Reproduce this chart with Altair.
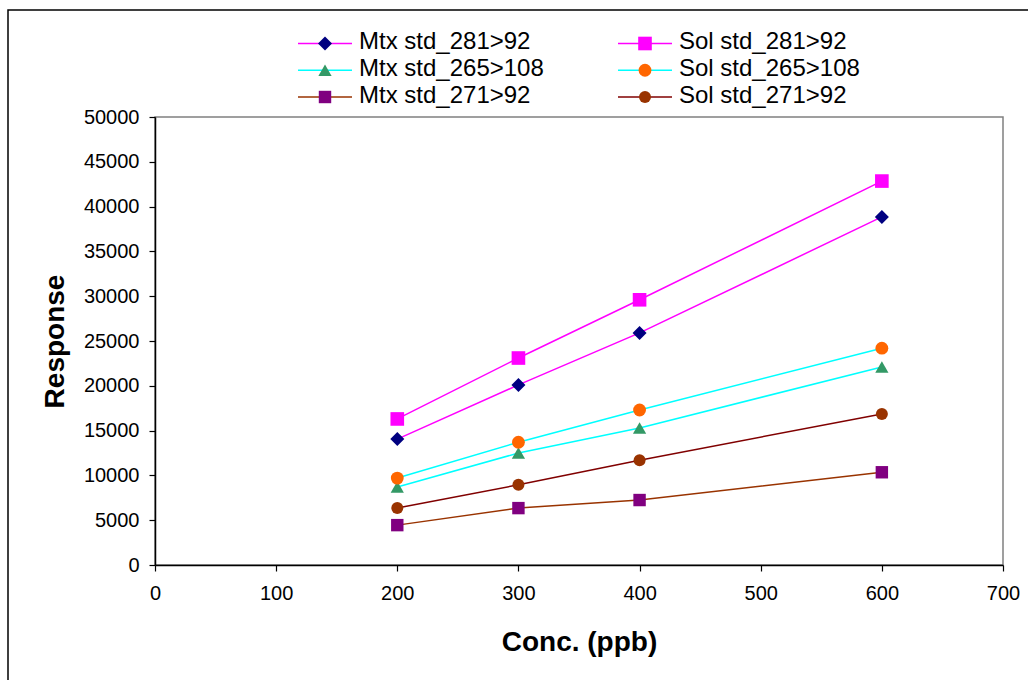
import altair as alt
import pandas as pd

# ---- data ----
conc = [200, 300, 400, 600]
series_names = ["Mtx std_281>92", "Sol std_281>92",
                "Mtx std_265>108", "Sol std_265>108",
                "Mtx std_271>92", "Sol std_271>92"]
mtx_281 = [14050, 20100, 25900, 38850]
sol_281 = [16300, 23100, 29600, 42850]
mtx_265 = [8700, 12500, 15300, 22100]
sol_265 = [9700, 13700, 17300, 24200]
mtx_271 = [4450, 6350, 7250, 10350]
sol_271 = [6350, 8950, 11700, 16850]
values = [mtx_281, sol_281, mtx_265, sol_265, mtx_271, sol_271]

# legend layout: column and row of each entry
legend_col = [0, 1, 0, 1, 0, 1]
legend_row = [0, 0, 1, 1, 2, 2]

# ---- styles ----
line_colors = ["#FF00FF", "#FF00FF", "#00FFFF", "#00FFFF", "#993300", "#800000"]
marker_colors = ["#000080", "#FF00FF", "#339966", "#FF6600", "#800080", "#993300"]
marker_shapes = ["diamond", "square", "triangle-up", "circle", "square", "circle"]
marker_sizes = [196, 144, 196, 150, 144, 150]
FONT = "Liberation Sans"

rows = []
for name, vals in zip(series_names, values):
    for c, v in zip(conc, vals):
        rows.append({"series": name, "conc": c, "response": v})
df = pd.DataFrame(rows)

leg = pd.DataFrame({"series": series_names, "col": legend_col, "row": legend_row})

stroke_scale = alt.Scale(domain=series_names, range=line_colors)
fill_scale = alt.Scale(domain=series_names, range=marker_colors)
shape_scale = alt.Scale(domain=series_names, range=marker_shapes)
size_scale = alt.Scale(domain=series_names, range=marker_sizes)

x_enc = alt.X("conc:Q", scale=alt.Scale(domain=[0, 700], nice=False),
              axis=alt.Axis(values=list(range(0, 701, 100)), title="Conc. (ppb)",
                            grid=False, tickSize=6, labelPadding=12,
                            labelFlush=False, labelOverlap=False,
                            titleY=85, titleBaseline="alphabetic"))
y_enc = alt.Y("response:Q", scale=alt.Scale(domain=[0, 50000], nice=False),
              axis=alt.Axis(values=list(range(0, 50001, 5000)), format="d",
                            title="Response", grid=False, tickSize=6,
                            labelPadding=10, labelOverlap=False,
                            titleX=-92, titleY=224, titleAngle=270,
                            titleBaseline="alphabetic"))

lines = alt.Chart(df).mark_line(strokeWidth=1.5).encode(
    x=x_enc, y=y_enc,
    stroke=alt.Stroke("series:N", scale=stroke_scale, legend=None),
    detail="series:N",
)
points = alt.Chart(df).mark_point(filled=True, opacity=1, strokeWidth=0).encode(
    x=x_enc, y=y_enc,
    fill=alt.Fill("series:N", scale=fill_scale, legend=None),
    shape=alt.Shape("series:N", scale=shape_scale, legend=None),
    size=alt.Size("series:N", scale=size_scale, legend=None),
)
main = alt.layer(lines, points)

# ---- legend (drawn above the plot area) ----
lx = alt.X("col:O", scale=alt.Scale(type="point", domain=[0, 1], range=[170, 490], padding=0), axis=None)
ly = alt.Y("row:O", scale=alt.Scale(type="point", domain=[0, 1, 2], range=[-73.5, -20], padding=0), axis=None)

leg_lines = alt.Chart(leg).mark_point(shape="M-1,0L1,0", size=2916, filled=False,
                                      strokeWidth=1.5, opacity=1).encode(
    x=lx, y=ly, stroke=alt.Stroke("series:N", scale=stroke_scale, legend=None))
leg_points = alt.Chart(leg).mark_point(filled=True, opacity=1, strokeWidth=0).encode(
    x=lx, y=ly,
    fill=alt.Fill("series:N", scale=fill_scale, legend=None),
    shape=alt.Shape("series:N", scale=shape_scale, legend=None),
    size=alt.Size("series:N", scale=size_scale, legend=None),
)
leg_text = alt.Chart(leg).mark_text(align="left", baseline="alphabetic", dx=34, dy=5.5,
                                    fontSize=24, font=FONT, color="black").encode(
    x=lx, y=ly, text="series:N")
legend = alt.layer(leg_lines, leg_points, leg_text)

border = alt.Chart(pd.DataFrame({"a": [0]})).mark_rect(
    fill="transparent", stroke="black", strokeWidth=1.5).encode(
    x=alt.value(-147), x2=alt.value(900), y=alt.value(-107), y2=alt.value(600))

chart = alt.layer(border, main, legend).resolve_scale(
    x="independent", y="independent"
).properties(
    width=848, height=448,
    padding={"left": 155, "top": 117, "right": 25, "bottom": 115},
    autosize=alt.AutoSizeParams(type="none"),
    background="white",
).configure_view(
    stroke="#808080", strokeWidth=1.5
).configure_axis(
    domainColor="black", domainWidth=1.5, tickColor="black", tickWidth=1.2,
    labelFont=FONT, labelFontSize=20, labelColor="black",
    titleFont=FONT, titleFontSize=28, titleFontWeight="bold", titleColor="black",
)

chart.save("out.html", embed_options={"renderer": "svg", "actions": False})
